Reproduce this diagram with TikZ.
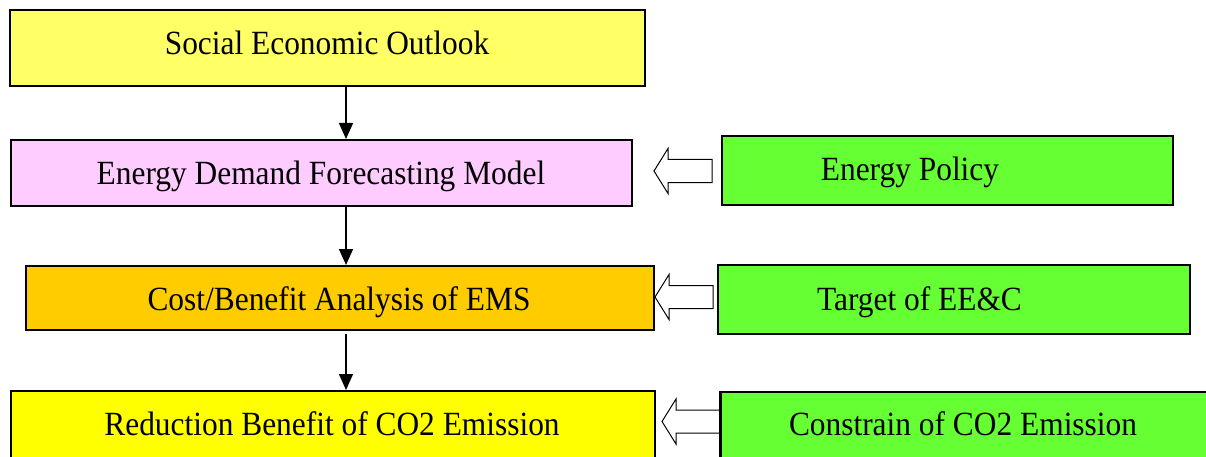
\documentclass[tikz,border=0pt]{standalone}
\usepackage{fontspec}
\setmainfont{Liberation Serif}
\usetikzlibrary{arrows.meta,calc}
\definecolor{outlookfill}{HTML}{FFFF66}
\definecolor{demandfill}{HTML}{FFCCFF}
\definecolor{costfill}{HTML}{FFCC00}
\definecolor{reductionfill}{HTML}{FFFF00}
\definecolor{policyfill}{HTML}{66FF33}
\newcommand\tallertext[1]{\scalebox{1}[1.08]{#1}}
\tikzset{
  box/.style={draw=black, line width=2pt, rectangle, inner sep=0pt},
  boxtext/.style={anchor=base, inner sep=0pt, font=\fontsize{31.4}{36}\selectfont},
  flow/.style={line width=1.4pt, -{Triangle[length=16pt,width=14pt]}},
  hollow/.style={draw=black, fill=white, line width=1pt, line join=miter},
}
% open block arrow pointing from #1 (tail) to #2 (tip), both at the same height
\newcommand\hollowarrow[2]{%
  \draw[hollow] ($(#1)+(0,-11.5)$) -- ($(#2)+(14,-11.5)$) -- ($(#2)+(14,-22.5)$)
    -- (#2) -- ($(#2)+(14,22.5)$) -- ($(#2)+(14,11.5)$) -- ($(#1)+(0,11.5)$) -- cycle;}
\begin{document}
\begin{tikzpicture}[x=1pt,y=-1pt]
\useasboundingbox (0,0) rectangle (1206,457);
\clip (0,0) rectangle (1206,457);

% main chain
\node[box, fill=outlookfill, minimum width=635pt, minimum height=76pt] (b1) at (327.5,48) {};
\node[box, fill=demandfill, minimum width=621pt, minimum height=66pt] (b2) at (321.5,173) {};
\node[box, fill=costfill, minimum width=628pt, minimum height=64pt] (b3) at (340,298) {};
\node[box, fill=reductionfill, minimum width=644pt, minimum height=79pt] (b4) at (333,430.5) {};

\node[boxtext] (b1t) at (327,55) {\tallertext{Social Economic Outlook}};
\node[boxtext] (b2t) at (321,185) {\tallertext{Energy Demand Forecasting Model}};
\node[boxtext] (b3t) at (339,310) {\tallertext{Cost/Benefit Analysis of EMS}};
\node[boxtext] (b4t) at (332,435) {\tallertext{Reduction Benefit of CO2 Emission}};

% side inputs
\node[box, fill=policyfill, minimum width=451pt, minimum height=69pt] (g1) at (947.5,170.5) {};
\node[box, fill=policyfill, minimum width=472pt, minimum height=69pt] (g2) at (954,299.5) {};
\node[box, fill=policyfill, minimum width=499pt, minimum height=78pt] (g3) at (970.5,431) {};

\node[boxtext] (g1t) at (910,180) {\tallertext{Energy Policy}};
\node[boxtext] (g2t) at (919.5,310) {\tallertext{Target of EE\&C}};
\node[boxtext] (g3t) at (963,435) {\tallertext{Constrain of CO2 Emission}};

% downward flow
\coordinate (ax) at (346,0);
\draw[flow] (b1.south -| ax) -- (b2.north -| ax);
\draw[flow] (b2.south -| ax) -- (b3.north -| ax);
\draw[flow] ($(b3.south -| ax)+(0,3)$) -- (b4.north -| ax);

% open arrows from the side inputs
\coordinate (t1) at ($(g1.west)+(-9,0.5)$);
\coordinate (p1) at (654,171);
\hollowarrow{t1}{p1}
\coordinate (t2) at (713,297);
\coordinate (p2) at (b3.east |- t2);
\hollowarrow{t2}{p2}
\coordinate (t3) at (g3.west |- 0,421.5);
\coordinate (p3) at (662,421.5);
\hollowarrow{t3}{p3}
\draw[line width=2pt] (g3.north west) -- (g3.south west);
\end{tikzpicture}
\end{document}
